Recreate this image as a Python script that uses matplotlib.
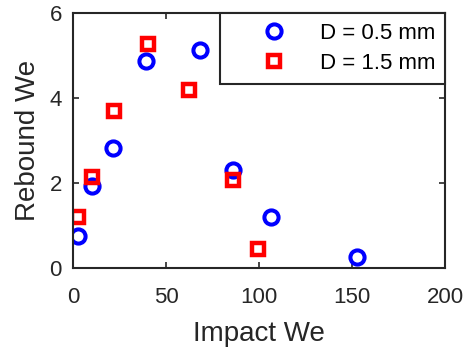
import matplotlib

matplotlib.use("Agg")
import matplotlib.pyplot as plt

# Impact vs rebound Weber number, two drop diameters
impact_we_05 = [2.7, 10.2, 21.5, 39.2, 68.3, 86.0, 106.5, 152.8]
rebound_we_05 = [0.75, 1.92, 2.82, 4.88, 5.12, 2.30, 1.20, 0.26]
impact_we_15 = [2.7, 10.2, 22.0, 40.2, 62.2, 86.0, 99.5]
rebound_we_15 = [1.20, 2.15, 3.70, 5.28, 4.18, 2.07, 0.45]

plt.rcParams["font.family"] = ["Liberation Sans", "DejaVu Sans"]
ink = "#262626"

fig = plt.figure(figsize=(4.64, 3.49), dpi=100)
ax = fig.add_axes([73 / 464, 1 - 268 / 349, 372 / 464, 255 / 349])

ax.plot(impact_we_05, rebound_we_05, "o", ms=10.2, mfc="none", mec="blue", mew=2.9,
        label="D = 0.5 mm")
ax.plot(impact_we_15, rebound_we_15, "s", ms=8.2, mfc="none", mec="red", mew=3.2,
        label="D = 1.5 mm")

ax.set_xlim(0, 200)
ax.set_ylim(0, 6)
ax.set_xticks([0, 50, 100, 150, 200])
ax.set_yticks([0, 2, 4, 6])
ax.tick_params(direction="in", top=True, right=True, length=4, width=1.2,
               colors=ink, labelsize=16)
ax.tick_params(axis="x", pad=14)
ax.tick_params(axis="y", pad=8)
for sp in ax.spines.values():
    sp.set_linewidth(1.5)
    sp.set_color(ink)
ax.set_xlabel("Impact We", fontsize=20, color=ink, labelpad=9)
ax.set_ylabel("Rebound We", fontsize=20, color=ink, labelpad=6)

leg = ax.legend(loc="upper right", fontsize=16, frameon=True, fancybox=False,
                borderaxespad=0, handletextpad=0.05, borderpad=0.45, labelspacing=0.4,
                handlelength=3.96)
leg.get_frame().set_edgecolor(ink)
leg.get_frame().set_linewidth(1.5)
leg.get_frame().set_alpha(1)

fig.savefig("out.png", dpi=100)
